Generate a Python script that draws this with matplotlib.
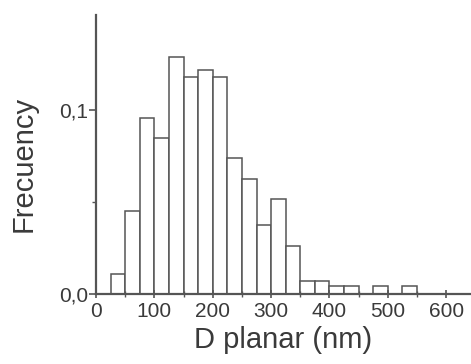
import matplotlib.pyplot as plt
import numpy as np

plt.rcParams['font.family'] = ['Liberation Sans', 'DejaVu Sans']

# histogram of planar diameter, bin width 25 nm
bin_left = [25, 50, 75, 100, 125, 150, 175, 200, 225, 250, 275, 300, 325,
            350, 375, 400, 425, 450, 475, 500, 525]
freq = [0.011, 0.045, 0.096, 0.085, 0.129, 0.118, 0.122, 0.118, 0.074, 0.0625,
        0.0375, 0.052, 0.026, 0.007, 0.007, 0.0045, 0.0045, 0.0, 0.0045, 0.0, 0.0045]
bin_width = 25
x_ticks = [0, 100, 200, 300, 400, 500, 600]
y_ticks = [0.0, 0.1]
y_tick_labels = ['0,0', '0,1']

line_col = '#555555'
text_col = '#3a3a3a'

fig = plt.figure(figsize=(4.71, 3.64), dpi=100)
ax = fig.add_axes([0.204, 0.192, 0.794, 0.767])

ax.bar(bin_left, freq, width=bin_width, align='edge', facecolor='white',
       edgecolor=line_col, linewidth=1.1)

ax.set_xlim(0, 641)
ax.set_ylim(0, 0.152)
ax.set_xticks(x_ticks)
ax.set_xticks([50, 150, 250, 350, 450, 550], minor=True)
ax.set_yticks(y_ticks)
ax.set_yticklabels(y_tick_labels)
ax.set_yticks([0.05], minor=True)

for side in ['top', 'right']:
    ax.spines[side].set_visible(False)
for side in ['left', 'bottom']:
    ax.spines[side].set_color(line_col)
    ax.spines[side].set_linewidth(1.6)

ax.tick_params(axis='x', direction='inout', length=6, width=1.2, colors=line_col,
               labelsize=15, labelcolor=text_col, pad=3)
ax.tick_params(axis='x', which='minor', direction='inout', length=4, width=1.0,
               colors=line_col)
ax.tick_params(axis='y', direction='out', length=5, width=1.2, colors=line_col,
               labelsize=15, labelcolor=text_col, pad=1)
ax.tick_params(axis='y', which='minor', direction='out', length=3, width=1.0,
               colors=line_col)

ax.set_xlabel('D planar (nm)', fontsize=21, color=text_col, labelpad=3)
ax.set_ylabel('Frecuency', fontsize=21, color=text_col)
ax.yaxis.set_label_coords(-0.155, 0.466)

fig.savefig('out.png', dpi=100)
